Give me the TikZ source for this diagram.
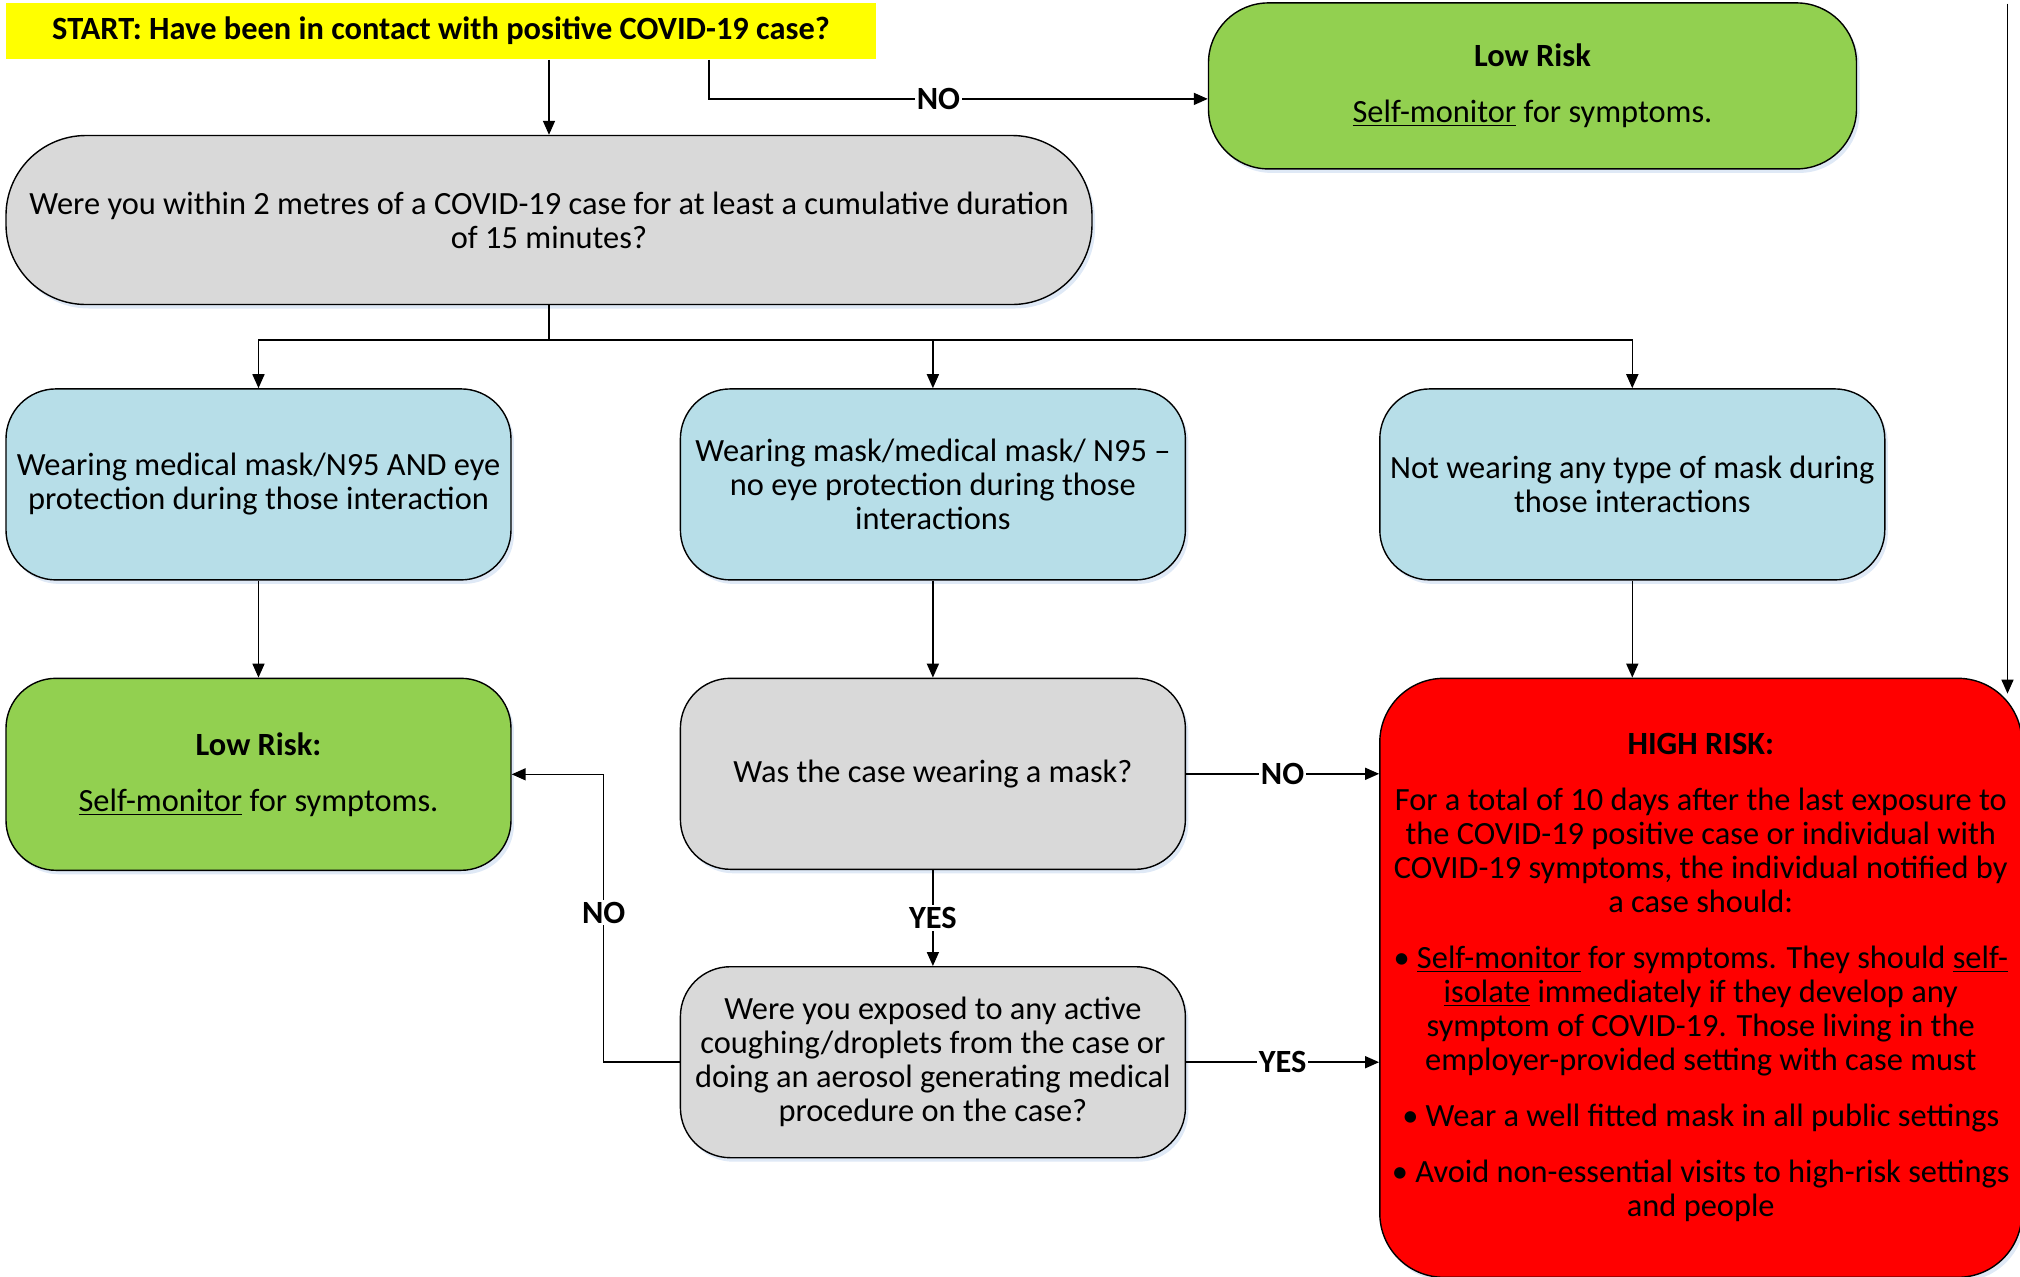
\documentclass[tikz,border=0pt]{standalone}
\usepackage{fontspec}
\setmainfont{Carlito}
\usepackage{xcolor}
\usetikzlibrary{positioning, arrows.meta, calc, shadows}

\definecolor{startyellow}{HTML}{FFFF00}
\definecolor{lowgreen}{HTML}{92D050}
\definecolor{maskblue}{HTML}{B7DEE8}
\definecolor{askgray}{HTML}{D9D9D9}
\definecolor{highred}{HTML}{FF0000}
\definecolor{shadowblue}{HTML}{C9DAF0}

\begin{document}
\begin{tikzpicture}[node distance=48.5pt, thick,
  >={Triangle[length=7pt,width=6pt]},
  box node/.style={draw, line width=0.7pt, align=center, inner sep=3pt,
    font=\fontsize{16.2}{17}\selectfont,
    drop shadow={shadow xshift=1.5pt, shadow yshift=-2pt, fill=shadowblue, opacity=0.6}},
  start node/.style={fill=startyellow, minimum width=435pt, minimum height=28pt,
    font=\fontsize{16.2}{17}\selectfont\bfseries},
  question node/.style={box node, fill=askgray, rounded corners=25pt,
    minimum width=252.5pt, minimum height=95.5pt},
  mask node/.style={box node, fill=maskblue, rounded corners=25pt,
    minimum width=252.5pt, minimum height=95.5pt},
  low node/.style={box node, fill=lowgreen, rounded corners=25pt,
    minimum width=252.5pt, minimum height=96pt},
  high node/.style={box node, fill=highred, rounded corners=32pt,
    minimum width=321pt, minimum height=299.5pt},
  answer node/.style={fill=white, inner sep=1pt,
    font=\fontsize{16.2}{17}\selectfont\bfseries}]

\useasboundingbox (-220.5pt,15.5pt) rectangle (789.5pt,-622.5pt);

\node[start node] (start) {START: Have been in contact with positive COVID-19 case?};
\node[question node, rounded corners=40pt, minimum width=543pt, minimum height=84.5pt]
  (within) [below=37.5pt of start, xshift=54pt]
  {Were you within 2 metres of a COVID-19 case for at least a cumulative duration\\of 15 minutes?};
\node[low node, rounded corners=30pt, minimum width=324pt, minimum height=83pt]
  (lowtop) [right=165.5pt of start.north east, anchor=north west]
  {\textbf{Low Risk}\\[11pt]\underline{Self-monitor} for symptoms.};

\node[mask node] (eyes) [below=41.5pt of within.south west, anchor=north west]
  {Wearing medical mask/N95 AND eye\\protection during those interaction};
\node[mask node] (noeyes) [right=84pt of eyes]
  {Wearing mask/medical mask/ N95 --\\no eye protection during those\\interactions};
\node[mask node] (nomask) [right=96.5pt of noeyes]
  {Not wearing any type of mask during\\those interactions};

\node[low node] (lowleft) [below=of eyes]
  {\textbf{Low Risk:}\\[11pt]\underline{Self-monitor} for symptoms.};
\node[question node] (casemask) [below=of noeyes] {Was the case wearing a mask?};
\node[high node] (high) [below=of nomask.south west, anchor=north west]
  {\textbf{HIGH RISK:}\\[11pt]
   For a total of 10 days after the last exposure to\\
   the COVID-19 positive case or individual with\\
   COVID-19 symptoms, the individual notified by\\
   a case should:\\[11pt]
   \textbullet\ \underline{Self-monitor} for symptoms. They should \underline{self-}\\
   \underline{isolate} immediately if they develop any\\
   symptom of COVID-19. Those living in the\\
   employer-provided setting with case must\\[11pt]
   \textbullet\ Wear a well fitted mask in all public settings\\[11pt]
   \textbullet\ Avoid non-essential visits to high-risk settings\\
   and people};
\node[question node] (exposed) [below=48pt of casemask]
  {Were you exposed to any active\\coughing/droplets from the case or\\doing an aerosol generating medical\\procedure on the case?};

\coordinate (nostart) at ($(start.south)+(134pt,0)$);
\coordinate (split) at ($(within.south)+(0,-17.5pt)$);
\coordinate (feed) at ($(high.north east)+(-7.5pt,337pt)$);

\draw[->] (within.north |- start.south) -- (within.north);
\draw[->] (nostart) |- node[answer node, pos=0.73] {NO} ($(lowtop.west)+(0,-6.5pt)$);
\draw[->] (within.south) -- (split) -| (eyes.north);
\draw[->] (split) -| (noeyes.north);
\draw[->] (split) -| (nomask.north);
\draw[->] (eyes) -- (lowleft);
\draw[->] (noeyes) -- (casemask);
\draw[->] (nomask.south) -- (nomask.south |- high.north);
\draw[->] (casemask.east) -- node[answer node] {NO} (casemask.east -| high.west);
\draw[->] (casemask) -- node[answer node] {YES} (exposed);
\draw[->] (exposed.east) -- node[answer node] {YES} (exposed.east -| high.west);
\draw[->] (exposed.west) -- ++(-38pt,0) |- node[answer node, pos=0.26] {NO} (lowleft.east);
\draw[->] (feed) -- ($(feed |- high.north)+(0,-8pt)$);

\end{tikzpicture}
\end{document}
